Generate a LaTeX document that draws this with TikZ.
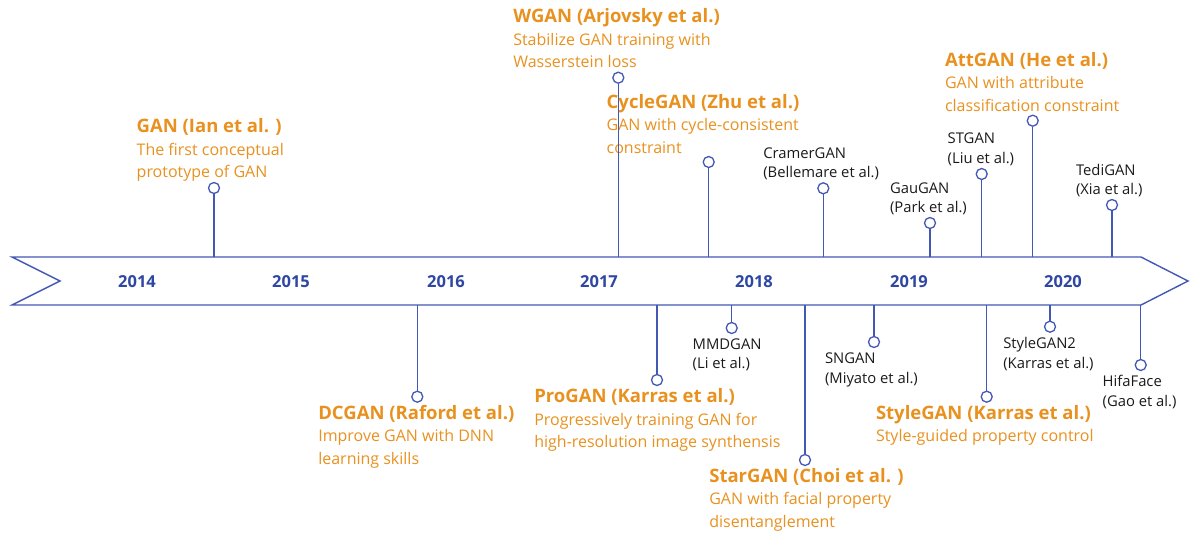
\documentclass[tikz,border=0pt]{standalone}
\usepackage{fontspec}
\setmainfont{Open Sans}
\definecolor{lineblue}{HTML}{4358B4}
\definecolor{yearblue}{HTML}{2E47A3}
\definecolor{accent}{HTML}{E8911F}
\definecolor{plain}{HTML}{1A1A1A}

% stacked lines, baseline on the first line
\newcommand\lns[2][22.5pt]{\vtop{\baselineskip=#1\lineskiplimit=-10pt\halign{##\hfil\cr#2\crcr}}}
\newcommand\ttl[1]{{\fontsize{18.5}{22.5}\selectfont\bfseries #1}}

\tikzset{
  band/.style={draw=lineblue, line width=1.4pt, fill=white, line join=miter},
  stem/.style={draw=lineblue, line width=1.4pt},
  dot/.style={circle, draw=lineblue, fill=white, line width=1.3pt, minimum size=11pt, inner sep=0pt},
  year/.style={text=yearblue, font=\fontsize{16.5}{20}\selectfont\bfseries, inner sep=0pt},
  major/.style={anchor=base west, inner sep=0pt, outer sep=0pt, text=accent, font=\fontsize{16}{22.5}\selectfont},
  minor/.style={anchor=base west, inner sep=0pt, outer sep=0pt, text=plain, font=\fontsize{14.8}{20}\selectfont},
}

\begin{document}
\begin{tikzpicture}[x=1pt, y=-1pt]
\useasboundingbox (0,0) rectangle (1190,536);

% timeline band
\draw[band] (12,257) -- (1141,257) -- (1188,281) -- (1141,305) -- (12,305) -- (60,281) -- cycle;

% years
\node[year] (y2014) at (137,282) {2014};
\node[year] (y2015) at (291,282) {2015};
\node[year] (y2016) at (446,282) {2016};
\node[year] (y2017) at (599,282) {2017};
\node[year] (y2018) at (754,282) {2018};
\node[year] (y2019) at (909,282) {2019};
\node[year] (y2020) at (1063,282) {2020};

% milestones above the band
\coordinate (b-gan) at (214,257);
\coordinate (b-wgan) at (618.3,257);
\coordinate (b-cycle) at (708.7,257);
\coordinate (b-cramer) at (823.3,257);
\coordinate (b-gau) at (930,257);
\coordinate (b-st) at (981.7,257);
\coordinate (b-att) at (1032.7,257);
\coordinate (b-tedi) at (1112,257);

% milestones below the band
\coordinate (b-dc) at (417.3,305);
\coordinate (b-pro) at (657,305);
\coordinate (b-mmd) at (731.7,305);
\coordinate (b-star) at (805,305);
\coordinate (b-sn) at (874,305);
\coordinate (b-style) at (986.7,305);
\coordinate (b-style2) at (1050,305);
\coordinate (b-hifa) at (1140.7,305);

% labels
\node[major] (t-gan) at (136.7,132.7) {\lns{\ttl{GAN (Ian et al. )}\cr The first conceptual\cr prototype of GAN}};
\node[major] (t-wgan) at (513.3,22.5) {\lns{\ttl{WGAN (Arjovsky et al.)}\cr Stabilize GAN training with\cr Wasserstein loss}};
\node[major] (t-cycle) at (606.7,108.3) {\lns{\ttl{CycleGAN (Zhu et al.)}\cr GAN with cycle-consistent\cr constraint}};
\node[minor] (t-cramer) at (763.3,158.3) {\lns[19.5pt]{CramerGAN\cr (Bellemare et al.)}};
\node[minor] (t-gau) at (890,193.3) {\lns[19.5pt]{GauGAN\cr (Park et al.)}};
\node[minor] (t-st) at (947.7,143.5) {\lns[19.5pt]{STGAN\cr (Liu et al.)}};
\node[major] (t-att) at (945,66) {\lns{\ttl{AttGAN (He et al.)}\cr GAN with attribute\cr classification constraint}};
\node[minor] (t-tedi) at (1076,175) {\lns[19.5pt]{TediGAN\cr (Xia et al.)}};

\node[major] (t-dc) at (318.3,419.3) {\lns{\ttl{DCGAN (Raford et al.)}\cr Improve GAN with DNN\cr learning skills}};
\node[major] (t-pro) at (534.3,402.7) {\lns{\ttl{ProGAN (Karras et al.)}\cr Progressively training GAN for\cr high-resolution image synthensis}};
\node[minor] (t-mmd) at (692.7,349) {\lns[19.5pt]{MMDGAN\cr (Li et al.)}};
\node[major] (t-star) at (709.3,482.3) {\lns{\ttl{StarGAN (Choi et al. )}\cr GAN with facial property\cr disentanglement}};
\node[minor] (t-sn) at (825,363.5) {\lns[19.5pt]{SNGAN\cr (Miyato et al.)}};
\node[major] (t-style) at (876,419.3) {\lns{\ttl{StyleGAN (Karras et al.)}\cr Style-guided property control}};
\node[minor] (t-style2) at (1003.3,348.5) {\lns[19.5pt]{StyleGAN2\cr (Karras et al.)}};
\node[minor] (t-hifa) at (1102.7,386.7) {\lns[19.5pt]{HifaFace\cr (Gao et al.)}};

% end markers
\node[dot] (c-gan) at (214,188) {};
\node[dot] (c-wgan) at (618.3,77.7) {};
\node[dot] (c-cycle) at (708.7,162) {};
\node[dot] (c-cramer) at (823.3,188.3) {};
\node[dot] (c-gau) at (930,223) {};
\node[dot] (c-st) at (981.7,174) {};
\node[dot] (c-att) at (1032.7,120.7) {};
\node[dot] (c-tedi) at (1112,205) {};

\node[dot] (c-dc) at (417.3,396.7) {};
\node[dot] (c-pro) at (657,380) {};
\node[dot] (c-mmd) at (731.7,328) {};
\node[dot] (c-star) at (805,460) {};
\node[dot] (c-sn) at (874,342) {};
\node[dot] (c-style) at (986.7,396.7) {};
\node[dot] (c-style2) at (1050,326.7) {};
\node[dot] (c-hifa) at (1140.7,365) {};

% stems
\foreach \m in {gan,wgan,cycle,cramer,gau,st,att,tedi,dc,pro,mmd,star,sn,style,style2,hifa}
  \draw[stem] (b-\m) -- (c-\m);
\end{tikzpicture}
\end{document}
